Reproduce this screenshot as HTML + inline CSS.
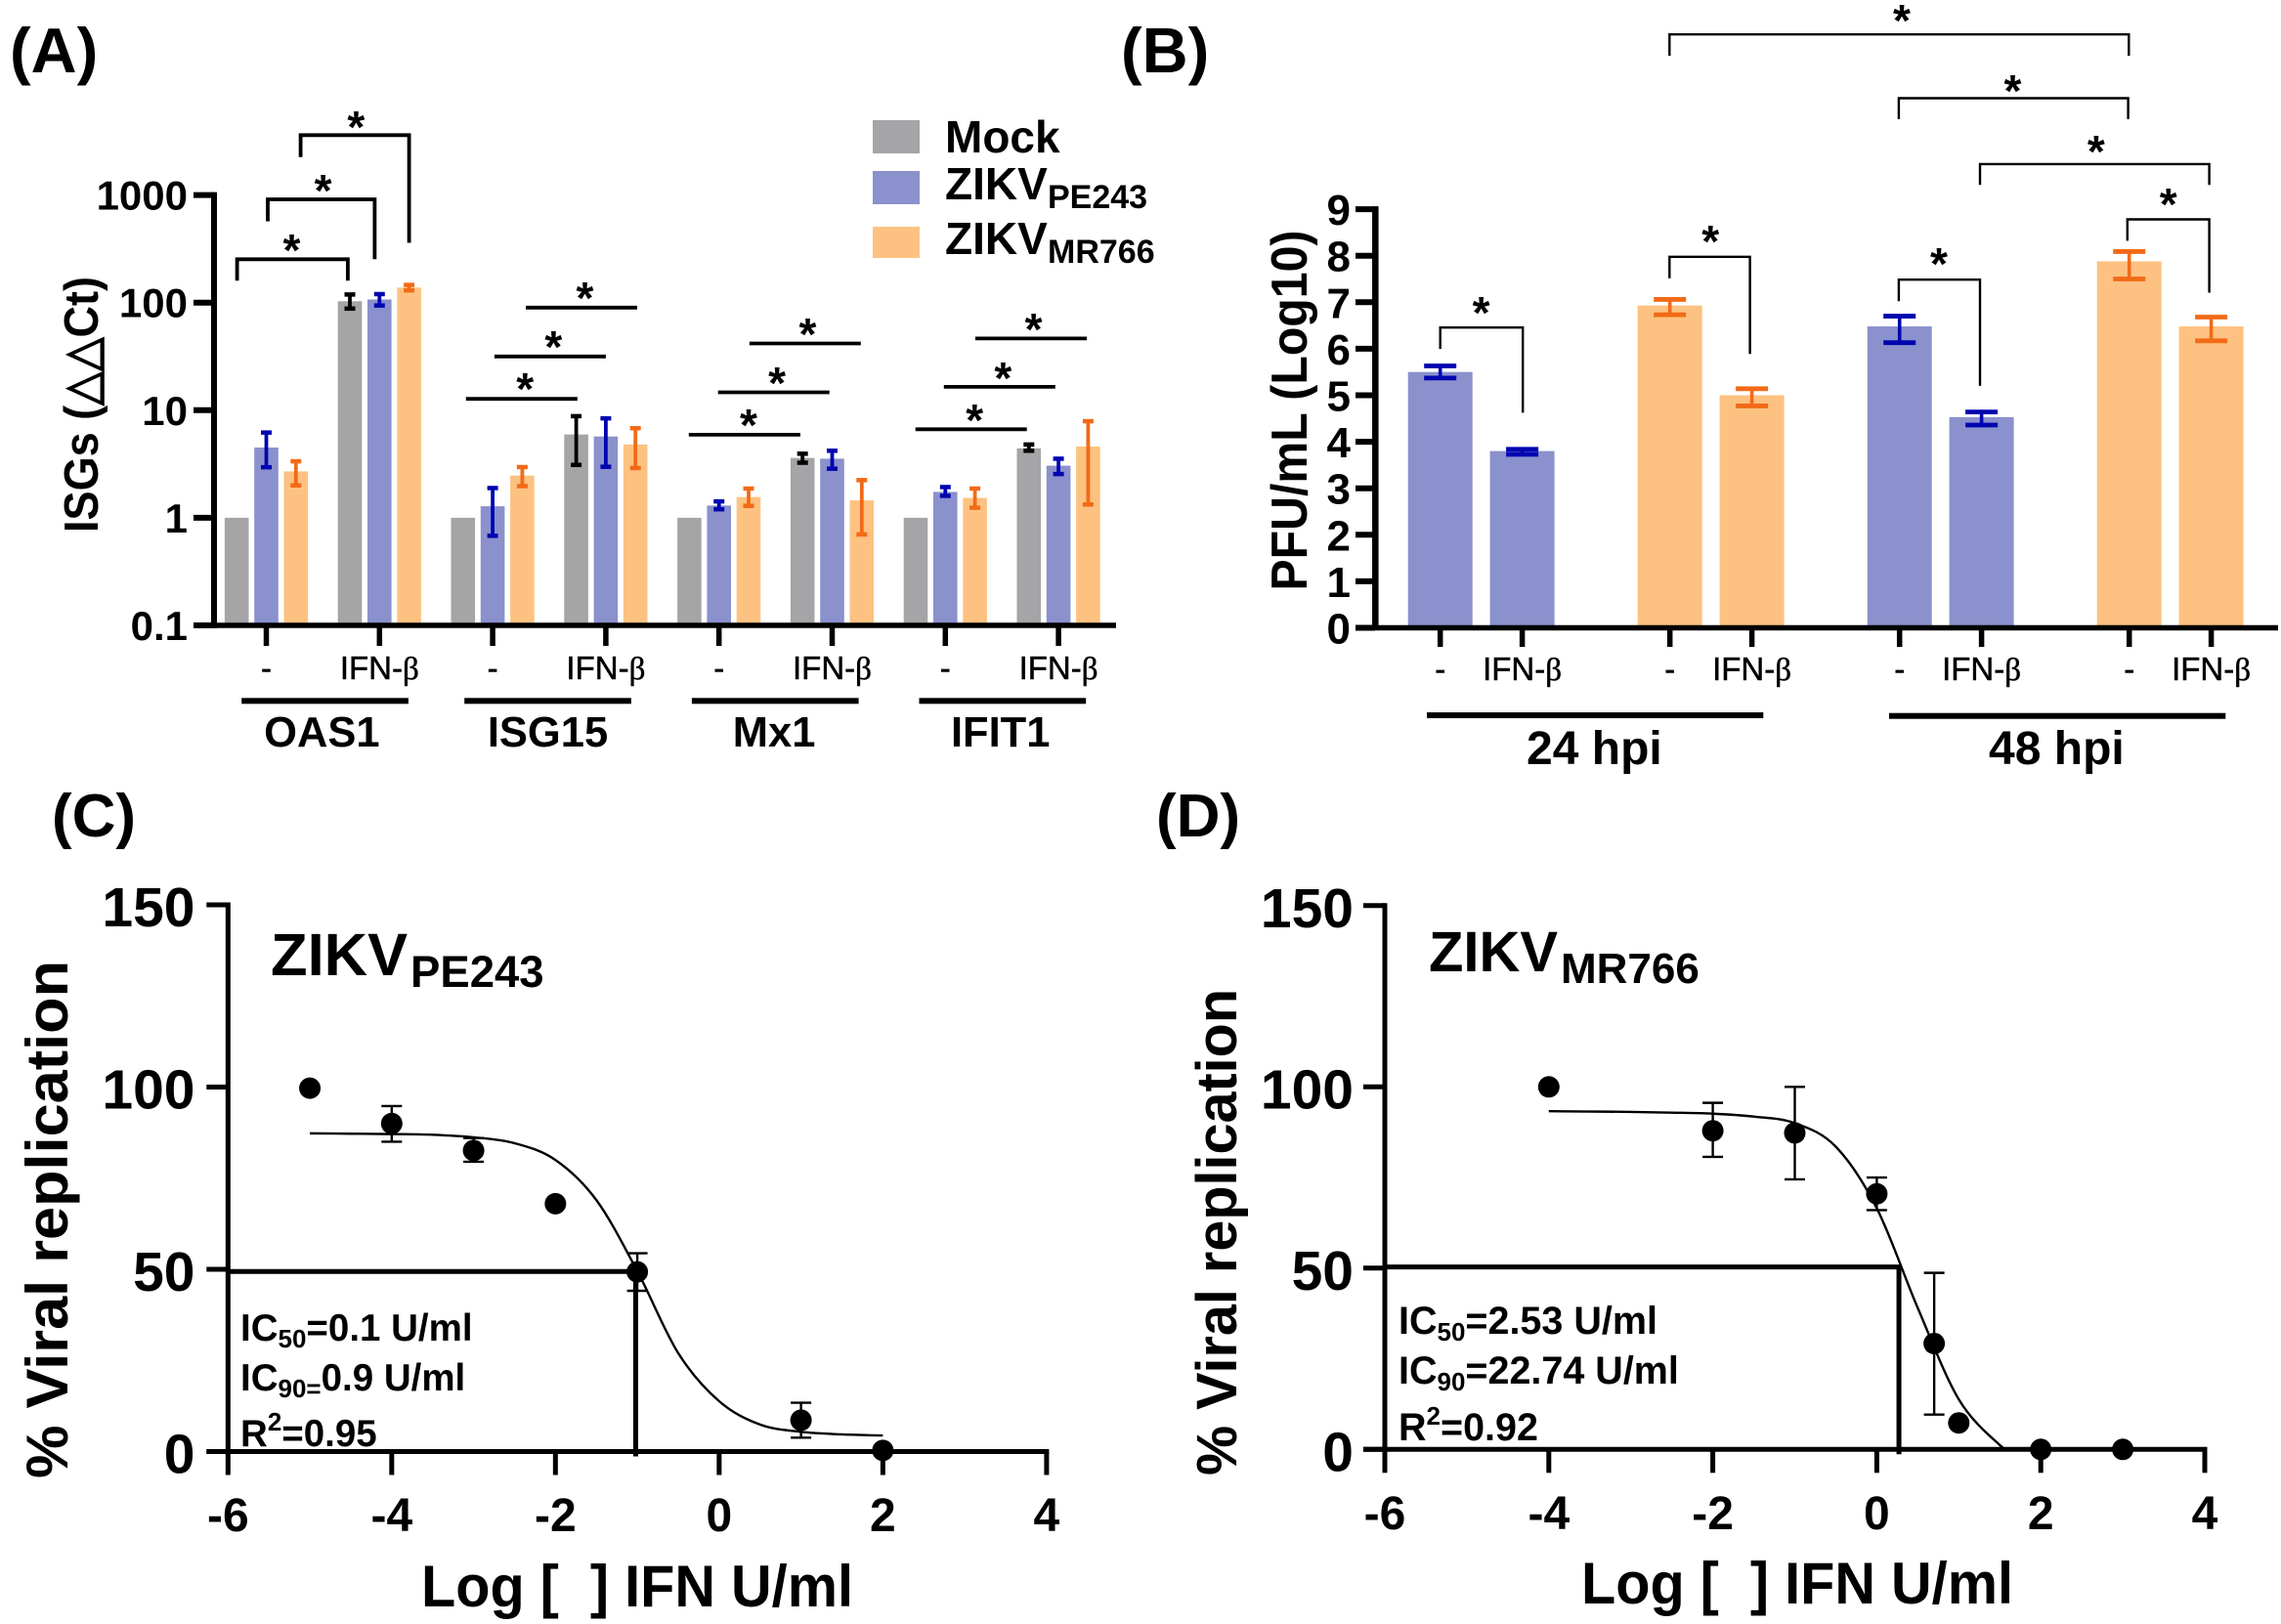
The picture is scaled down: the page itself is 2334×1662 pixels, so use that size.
<!DOCTYPE html>
<html lang="en">
<head>
<meta charset="utf-8">
<title>ISG expression and viral replication panels</title>
<style>
html,body{margin:0;padding:0;background:#fff;}
svg{display:block;}
text{font-family:"Liberation Sans",Arial,sans-serif;fill:#000;}
.b{font-weight:700;}
.serif{font-family:"Liberation Serif",serif;}
.star{font-size:46px;font-weight:700;text-anchor:middle;transform:translateY(2px);}
.ifn{font-size:33px;text-anchor:middle;stroke:#000;stroke-width:.5px;}
.ic{font-size:38.5px;font-weight:700;}
.thick{stroke:#000;stroke-width:3.8;fill:none;}
.thin{stroke:#000;stroke-width:2.4;fill:none;}
</style>
</head>
<body>
<svg id="figure" xmlns="http://www.w3.org/2000/svg" width="2334" height="1662" viewBox="0 0 2334 1662">
<rect width="2334" height="1662" fill="#fff"/>

<text class="b" x="10" y="74" font-size="65">(A)</text>
<text class="b" x="1147" y="74" font-size="65">(B)</text>
<text class="b" x="53" y="856" font-size="62">(C)</text>
<text class="b" x="1183" y="856" font-size="62">(D)</text>

<g id="panel-a">
  <text class="b" transform="translate(100,414) rotate(-90)" text-anchor="middle" font-size="49" textLength="262" lengthAdjust="spacingAndGlyphs">ISGs (△△Ct)</text>
  <g>
    <rect x="893" y="123" width="48" height="34" fill="#a5a5a8"/>
    <rect x="893" y="175" width="48" height="34" fill="#8a91cc"/>
    <rect x="893" y="232" width="48" height="32" fill="#fdc281"/>
    <text class="b" x="967" y="156" font-size="46">Mock</text>
    <text class="b" x="967" y="204" font-size="46">ZIKV</text>
    <text class="b" x="1072" y="213" font-size="34">PE243</text>
    <text class="b" x="967" y="260" font-size="46">ZIKV</text>
    <text class="b" x="1072" y="269" font-size="34">MR766</text>
  </g>
  <g>
    <path class="thick" d="M242.6 287.2V265.3H355.9V287.2"/>
    <path class="thick" d="M274 226.5V204H383.4V265.3"/>
    <path class="thick" d="M307.6 160.7V138.3H418.6V248.5"/>
    <path class="thick" d="M538 314.8H652"/>
    <path class="thick" d="M505.9 364.8H619.9"/>
    <path class="thick" d="M476.8 408.2H590.8"/>
    <path class="thick" d="M766.8 351.5H880.8"/>
    <path class="thick" d="M734.7 401.5H848.7"/>
    <path class="thick" d="M704.8 444.9H818.9"/>
    <path class="thick" d="M998 346.4H1112"/>
    <path class="thick" d="M965.8 395.9H1079.8"/>
    <path class="thick" d="M936.7 439.3H1050.7"/>
    <text class="star" x="298.5" y="270">*</text>
    <text class="star" x="330.6" y="209">*</text>
    <text class="star" x="364.3" y="144">*</text>
    <text class="star" x="598.5" y="319">*</text>
    <text class="star" x="566.3" y="369">*</text>
    <text class="star" x="537.2" y="412">*</text>
    <text class="star" x="826.5" y="356">*</text>
    <text class="star" x="795.1" y="406">*</text>
    <text class="star" x="766" y="449">*</text>
    <text class="star" x="1057.6" y="351">*</text>
    <text class="star" x="1026.3" y="401">*</text>
    <text class="star" x="997.2" y="444">*</text>
  </g>
  <g>
    <rect x="247.2" y="714.3" width="170.7" height="6"/>
    <rect x="475.2" y="714.3" width="170.7" height="6"/>
    <rect x="707.9" y="714.3" width="170.7" height="6"/>
    <rect x="940.5" y="714.3" width="170.7" height="6"/>
  </g>
</g>

<g id="panel-b">
  <text class="b" transform="translate(1337,420) rotate(-90)" text-anchor="middle" font-size="52" textLength="369" lengthAdjust="spacingAndGlyphs">PFU/mL (Log10)</text>
  <g>
    <path class="thin" d="M1473.7 357.1V335.2H1558.2V422.4"/>
    <path class="thin" d="M1708.3 284.7V262.8H1790.6V362.2"/>
    <path class="thin" d="M1942.9 308.2V286.2H2026V394.9"/>
    <path class="thin" d="M2176.8 246.4V224.5H2260.6V299.5"/>
    <path class="thin" d="M2026 189.3V167.9H2260.6V189.3"/>
    <path class="thin" d="M1942.9 121.9V100.5H2177.6V121.9"/>
    <path class="thin" d="M1708.3 57.1V35.2H2178.3V57.1"/>
    <text class="star" x="1515.6" y="334">*</text>
    <text class="star" x="1750.2" y="261">*</text>
    <text class="star" x="1984" y="284">*</text>
    <text class="star" x="2218.7" y="223">*</text>
    <text class="star" x="2144.8" y="169">*</text>
    <text class="star" x="2059.5" y="107">*</text>
    <text class="star" x="1946" y="35">*</text>
  </g>
  <rect x="1460" y="729" width="344.3" height="6"/>
  <rect x="1933" y="729.7" width="344.3" height="6"/>
  <text class="b" x="1631.4" y="782" font-size="48" text-anchor="middle">24 hpi</text>
  <text class="b" x="2104.4" y="782" font-size="48" text-anchor="middle">48 hpi</text>
</g>

<g id="panel-c">
  <text class="b" transform="translate(69,1248) rotate(-90)" text-anchor="middle" font-size="60" textLength="530" lengthAdjust="spacingAndGlyphs">% Viral replication</text>
  <text class="b" x="431" y="1644" font-size="60" textLength="442" lengthAdjust="spacingAndGlyphs" xml:space="preserve">Log [  ] IFN U/ml</text>
  <text class="b" x="277" y="998" font-size="61.5">ZIKV</text>
  <text class="b" x="420" y="1010" font-size="45.5">PE243</text>
  <g>
    <text class="ic" x="246" y="1372">IC<tspan font-size="26" dy="7">50</tspan><tspan dy="-7">=0.1 U/ml</tspan></text>
    <text class="ic" x="246" y="1423">IC<tspan font-size="26" dy="7">90=</tspan><tspan dy="-7">0.9 U/ml</tspan></text>
    <text class="ic" x="246" y="1480">R<tspan font-size="26" dy="-16">2</tspan><tspan dy="16">=0.95</tspan></text>
  </g>
</g>

<g id="panel-d">
  <text class="b" transform="translate(1265,1261) rotate(-90)" text-anchor="middle" font-size="58" textLength="498" lengthAdjust="spacingAndGlyphs">% Viral replication</text>
  <text class="b" x="1618" y="1641" font-size="60" textLength="442" lengthAdjust="spacingAndGlyphs" xml:space="preserve">Log [  ] IFN U/ml</text>
  <text class="b" x="1462" y="994" font-size="58">ZIKV</text>
  <text class="b" x="1597" y="1006" font-size="44">MR766</text>
  <g>
    <text class="ic" style="font-size:39.5px" x="1431" y="1365">IC<tspan font-size="26" dy="7">50</tspan><tspan dy="-7">=2.53 U/ml</tspan></text>
    <text class="ic" style="font-size:39.5px" x="1431" y="1416">IC<tspan font-size="26" dy="7">90</tspan><tspan dy="-7">=22.74 U/ml</tspan></text>
    <text class="ic" style="font-size:39.5px" x="1431" y="1474">R<tspan font-size="26" dy="-16">2</tspan><tspan dy="16">=0.92</tspan></text>
  </g>
</g>
</svg>

<script>
// ---------- Panel A data ----------
const aGenes = ['OAS1', 'ISG15', 'Mx1', 'IFIT1'];
const aTreatments = ['-', 'IFN-β'];
const aYTicks = [0.1, 1, 10, 100, 1000];
const aYTickLabels = ['0.1', '1', '10', '100', '1000'];
const aMock = [1, 103, 1, 5.95, 1, 3.6, 1, 4.42];
const aMockLow = [1, 88, 1, 3.1, 1, 3.25, 1, 4.2];
const aMockHigh = [1, 119, 1, 8.8, 1, 3.94, 1, 4.8];
const aPe243 = [4.5, 107, 1.28, 5.7, 1.3, 3.54, 1.74, 3.05];
const aPe243Low = [2.95, 94, 0.68, 2.98, 1.2, 2.86, 1.6, 2.55];
const aPe243High = [6.2, 120, 1.89, 8.4, 1.42, 4.2, 1.93, 3.54];
const aMr766 = [2.7, 138, 2.47, 4.8, 1.56, 1.45, 1.53, 4.6];
const aMr766Low = [2.0, 130, 1.97, 2.9, 1.29, 0.7, 1.24, 1.33];
const aMr766High = [3.35, 146, 2.96, 6.8, 1.87, 2.24, 1.87, 7.9];

// ---------- Panel B data ----------
const bTimes = ['24 hpi', '48 hpi'];
const bTreatments = ['-', 'IFN-β', '-', 'IFN-β', '-', 'IFN-β', '-', 'IFN-β'];
const bYTicks = [0, 1, 2, 3, 4, 5, 6, 7, 8, 9];
const bStrains = ['PE243', 'PE243', 'MR766', 'MR766', 'PE243', 'PE243', 'MR766', 'MR766'];
const bValues = [5.5, 3.8, 6.93, 5.0, 6.48, 4.53, 7.88, 6.48];
const bLow = [5.37, 3.73, 6.73, 4.77, 6.13, 4.36, 7.5, 6.17];
const bHigh = [5.63, 3.84, 7.06, 5.14, 6.7, 4.64, 8.09, 6.68];

// ---------- Panel C data ----------
const doseXTicks = [-6, -4, -2, 0, 2, 4];
const doseYTicks = [0, 50, 100, 150];
const cDoses = [-5, -4, -3, -2, -1, 1, 2];
const cReplication = [99.7, 90, 82.6, 68, 49.3, 8.6, 0.3];
const cLow = [99.7, 85, 79.5, 68, 44.1, 3.8, 0.3];
const cHigh = [99.7, 94.8, 86, 68, 54.4, 13.4, 0.3];
const cCurveDose = [-5, -4.5, -4, -3.5, -3, -2.5, -2, -1.5, -1, -0.5, 0, 0.5, 1, 1.5, 2];
const cCurveFit = [87.3, 87.2, 87.1, 86.9, 86.2, 84.6, 80, 69, 49.5, 27, 13.8, 7.4, 5.4, 4.7, 4.4];
const cIc50Dose = [-1.02];
const cIc50Level = [49.4];

// ---------- Panel D data ----------
const dDoses = [-4, -2, -1, 0, 0.7, 1, 2, 3];
const dReplication = [100, 87.9, 87.3, 70.5, 29.2, 7.3, 0, 0];
const dLow = [100, 80.7, 74.5, 66, 9.6, 7.3, 0, 0];
const dHigh = [100, 95.6, 100, 75, 48.7, 7.3, 0, 0];
const dCurveDose = [-4, -3.5, -3, -2.5, -2, -1.5, -1, -0.5, 0, 0.5, 1, 1.5, 1.65];
const dCurveFit = [93.3, 93.2, 93.1, 92.9, 92.6, 91.8, 90, 83.5, 66.5, 39, 13.8, 1.2, 0];
const dIc50Dose = [0.27];
const dIc50Level = [50.3];

const NS = 'http://www.w3.org/2000/svg';
function make(tag, attrs, parent, content) {
  const node = document.createElementNS(NS, tag);
  Object.keys(attrs).forEach(function (k) { node.setAttribute(k, attrs[k]); });
  if (content !== undefined) node.textContent = content;
  parent.appendChild(node);
  return node;
}
function seg(x1, y1, x2, y2, w, color, parent) {
  return make('line', { x1: x1, y1: y1, x2: x2, y2: y2, stroke: color, 'stroke-width': w }, parent);
}
function treatmentText(x, y, value, parent) {
  const label = make('text', { x: x, y: y, class: 'ifn' }, parent);
  if (value.length > 1) {
    make('tspan', {}, label, value.slice(0, -1));
    make('tspan', { class: 'serif' }, label, value.slice(-1));
  } else {
    label.textContent = value;
  }
  return label;
}

// ---------- Panel A ----------
const panelA = document.getElementById('panel-a');
function aY(v) { return 640 - (Math.log10(v) + 1) * 110.1; }
function aTick(i) { return 272.5 + 115.8 * i; }
function drawABars(values, low, high, offset, fill, errColor, series) {
  values.forEach(function (v, i) {
    const cx = aTick(i) + offset;
    const bar = make('rect', { x: cx - 12.3, y: aY(v), width: 24.6, height: 640 - aY(v), fill: fill }, panelA);
    
    
    if (high[i] !== low[i]) {
      const g = make('g', {}, panelA);
      
      
      seg(cx, aY(high[i]), cx, aY(low[i]), 3.8, errColor, g);
      seg(cx - 5.5, aY(high[i]), cx + 5.5, aY(high[i]), 4.5, errColor, g);
      seg(cx - 5.5, aY(low[i]), cx + 5.5, aY(low[i]), 4.5, errColor, g);
    }
  });
}
drawABars(aMock, aMockLow, aMockHigh, -30.3, '#a5a5a8', '#000000', 'mock');
drawABars(aPe243, aPe243Low, aPe243High, 0, '#8a91cc', '#0005b0', 'pe243');
drawABars(aMr766, aMr766Low, aMr766High, 30.3, '#fdc281', '#f26a17', 'mr766');

const aAxisY = seg(219, aY(1000) - 3, 219, 643, 6, '#000', panelA);


const aAxisX = seg(198, 640, 1142, 640, 5.5, '#000', panelA);



aYTicks.forEach(function (t, i) {
  const tick = seg(198, aY(t), 219, aY(t), 6, '#000', panelA);
  
  
  const label = make('text', { x: 192, y: aY(t) + 15, 'font-size': 42, 'font-weight': 700, 'text-anchor': 'end' }, panelA, aYTickLabels[i]);
  
  
});
for (let i = 0; i < aGenes.length * aTreatments.length; i++) {
  const x = aTick(i);
  const tick = seg(x, 640, x, 661, 5.5, '#000', panelA);
  
  
  const label = treatmentText(x, 695, aTreatments[i % 2], panelA);
  
  
}
aGenes.forEach(function (gene, i) {
  const label = make('text', { x: (aTick(i * 2) + aTick(i * 2 + 1)) / 2 - 1.5 + (i === 0 ? 0.5 : 0), y: 764, 'font-size': 43.5, 'font-weight': 700, 'text-anchor': 'middle' }, panelA, gene);
  
  
});

// ---------- Panel B ----------
const panelB = document.getElementById('panel-b');
function bY(v) { return 642.5 - v * 47.6; }
function bTick(i) { return 1473.7 + 83.9 * (i % 2) + 235 * Math.floor(i / 2); }
const bFill = { PE243: '#8a91cc', MR766: '#fdc281' };
const bErr = { PE243: '#0005b0', MR766: '#f26a17' };
bValues.forEach(function (v, i) {
  const cx = bTick(i);
  const bar = make('rect', { x: cx - 33, y: bY(v), width: 66, height: 642.5 - bY(v), fill: bFill[bStrains[i]] }, panelB);
  
  
  const g = make('g', {}, panelB);
  
  
  const c = bErr[bStrains[i]];
  seg(cx, bY(bHigh[i]), cx, bY(bLow[i]), 3.6, c, g);
  seg(cx - 16.5, bY(bHigh[i]), cx + 16.5, bY(bHigh[i]), 4.8, c, g);
  seg(cx - 16.5, bY(bLow[i]), cx + 16.5, bY(bLow[i]), 4.8, c, g);
  const tick = seg(cx, 642.5, cx, 662, 5.5, '#000', panelB);
  
  
  const label = treatmentText(cx, 696, bTreatments[i], panelB);
  
  
});
const bAxisY = seg(1407.3, bY(9) - 3, 1407.3, 645, 6.5, '#000', panelB);


const bAxisX = seg(1387, 642.5, 2331, 642.5, 5.5, '#000', panelB);


bYTicks.forEach(function (t) {
  const tick = seg(1387, bY(t), 1407, bY(t), 6, '#000', panelB);
  
  
  const label = make('text', { x: 1382, y: bY(t) + 16, 'font-size': 44, 'font-weight': 700, 'text-anchor': 'end' }, panelB, String(t));
  
  
});

// ---------- Panels C and D ----------
function smoothPath(xs, ys) {
  let d = 'M' + xs[0] + ' ' + ys[0];
  for (let i = 0; i < xs.length - 1; i++) {
    const p = Math.max(i - 1, 0), n = Math.min(i + 2, xs.length - 1);
    d += 'C' + (xs[i] + (xs[i + 1] - xs[p]) / 6) + ' ' + (ys[i] + (ys[i + 1] - ys[p]) / 6) + ' ' +
      (xs[i + 1] - (xs[n] - xs[i]) / 6) + ' ' + (ys[i + 1] - (ys[n] - ys[i]) / 6) + ' ' + xs[i + 1] + ' ' + ys[i + 1];
  }
  return d;
}
function drawDose(id, x0, xUnit, y0, yUnit, labelRight, labelBaselineX, doses, vals, low, high, curveX, curveY, refX, refY) {
  const panel = document.getElementById(id);
  const sx = function (v) { return x0 + xUnit * (v + 6); };
  const sy = function (v) { return y0 - yUnit * v; };

  const curve = make('path', { d: smoothPath(curveX.map(sx), curveY.map(sy)), fill: 'none', stroke: '#000', 'stroke-width': 2.4 }, panel);
  
  

  const refH = seg(sx(-6), sy(refY[0]), sx(refX[0]) + 2.5, sy(refY[0]), 5, '#000', panel);
  
  
  const refV = seg(sx(refX[0]), sy(refY[0]), sx(refX[0]), y0 + 5, 5, '#000', panel);
  
  

  const axisY = seg(x0, sy(150) - 2.5, x0, y0 + 2.5, 5, '#000', panel);
  
  
  const axisX = seg(x0 - 22, y0, sx(4) + 2.5, y0, 5, '#000', panel);
  
  

  doseYTicks.forEach(function (t) {
    const tick = seg(x0 - 22, sy(t), x0, sy(t), 5, '#000', panel);
    
    
    const label = make('text', { x: labelRight, y: sy(t) + 22, 'font-size': 57, 'font-weight': 700, 'text-anchor': 'end' }, panel, String(t));
    
    
  });
  doseXTicks.forEach(function (t) {
    const tick = seg(sx(t), y0, sx(t), y0 + 24, 5, '#000', panel);
    
    
    const label = make('text', { x: sx(t), y: labelBaselineX, 'font-size': 48, 'font-weight': 700, 'text-anchor': 'middle' }, panel, String(t));
    
    
  });
  doses.forEach(function (dose, i) {
    const cx = sx(dose);
    if (high[i] !== low[i]) {
      const g = make('g', {}, panel);
      
      
      seg(cx, sy(high[i]), cx, sy(low[i]), 2.4, '#000', g);
      seg(cx - 10.5, sy(high[i]), cx + 10.5, sy(high[i]), 2.4, '#000', g);
      seg(cx - 10.5, sy(low[i]), cx + 10.5, sy(low[i]), 2.4, '#000', g);
    }
    const dot = make('circle', { cx: cx, cy: sy(vals[i]), r: 11, fill: '#000' }, panel);
    
    
  });
}
drawDose('panel-c', 233.3, 83.76, 1485.5, 3.73, 199.5, 1567, cDoses, cReplication, cLow, cHigh, cCurveDose, cCurveFit, cIc50Dose, cIc50Level);
drawDose('panel-d', 1417, 83.9, 1483.3, 3.71, 1385, 1565, dDoses, dReplication, dLow, dHigh, dCurveDose, dCurveFit, dIc50Dose, dIc50Level);
</script>
</body>
</html>
